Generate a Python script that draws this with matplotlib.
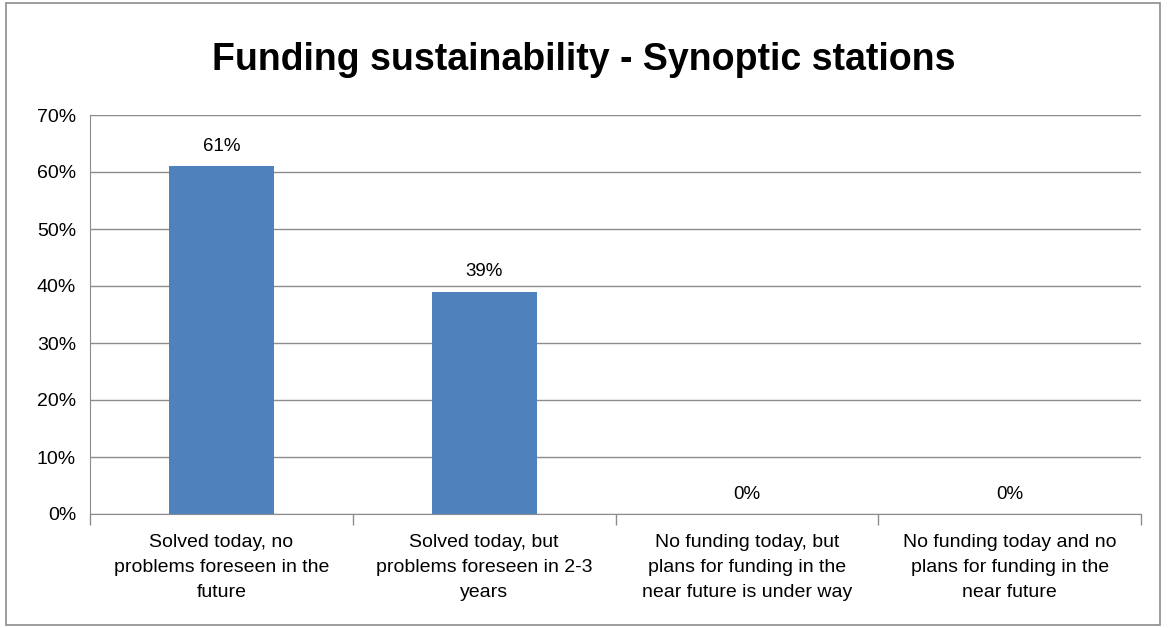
import numpy as np
import matplotlib.pyplot as plt
from matplotlib.patches import Rectangle

categories = ['Solved today, no\nproblems foreseen in the\nfuture',
              'Solved today, but\nproblems foreseen in 2-3\nyears',
              'No funding today, but\nplans for funding in the\nnear future is under way',
              'No funding today and no\nplans for funding in the\nnear future']
values = [61, 39, 0, 0]
yticks = [0, 10, 20, 30, 40, 50, 60, 70]

plt.rcParams['font.family'] = ['Liberation Sans', 'DejaVu Sans']

fig = plt.figure(figsize=(11.68, 6.28), dpi=100)
fig.patches.append(Rectangle((6 / 1168, 3 / 628), 1154 / 1168, 622 / 628,
                             transform=fig.transFigure, fill=False,
                             edgecolor='#8c8c8c', lw=1.2))
ax = fig.add_axes([90 / 1168, 1 - 514 / 628, 1051 / 1168, 399 / 628])

x = np.arange(len(categories))
ax.bar(x, values, width=0.4, color='#4F81BD', zorder=3)
for xi, v in zip(x, values):
    ax.text(xi, v + 2.0, f'{v}%', ha='center', va='bottom', fontsize=13.5)

ax.set_xlim(-0.5, len(categories) - 0.5)
ax.set_ylim(0, 70)
ax.set_yticks(yticks)
ax.set_yticklabels([f'{t}%' for t in yticks], fontsize=14)
ax.tick_params(axis='y', length=0, pad=10)
ax.grid(axis='y', color='#8c8c8c', lw=1, zorder=0)

ax.set_xticks(np.arange(len(categories) + 1) - 0.5)
ax.set_xticklabels([])
ax.tick_params(axis='x', length=8, color='#8c8c8c', width=1)
for xi, lab in zip(x, categories):
    ax.text(xi, -0.05, lab, transform=ax.get_xaxis_transform(), ha='center',
            va='top', fontsize=14, linespacing=1.6)

for s in ['top', 'right']:
    ax.spines[s].set_visible(False)
for s in ['left', 'bottom']:
    ax.spines[s].set_color('#8c8c8c')

fig.text(0.5, 1 - 60 / 628, 'Funding sustainability - Synoptic stations',
         ha='center', va='center', fontsize=27, fontweight='bold')

plt.savefig('out.png', dpi=100)
